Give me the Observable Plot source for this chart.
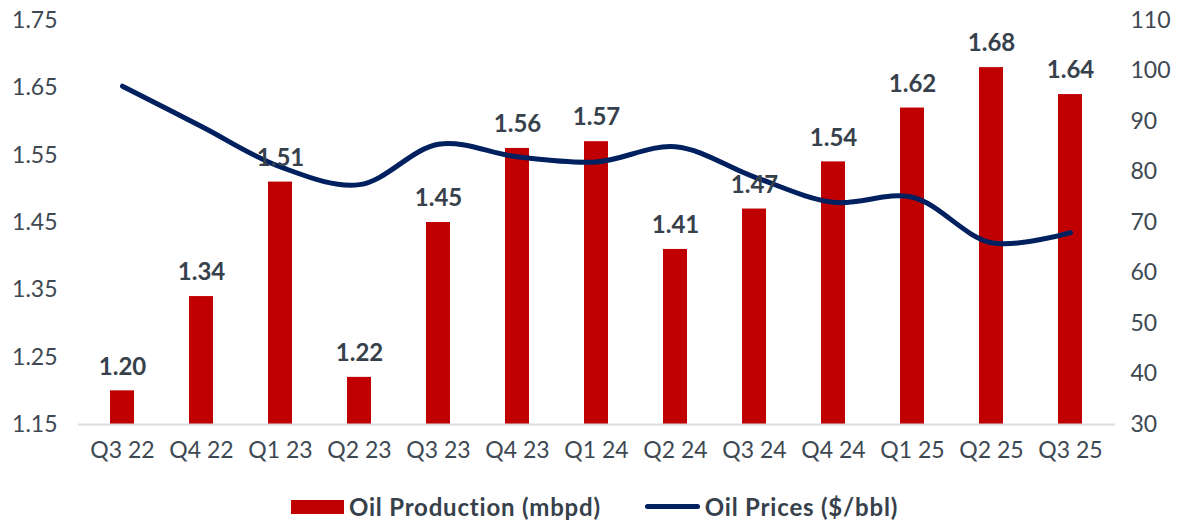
<!DOCTYPE html>
<html>
<head>
<meta charset="utf-8">
<script src="https://cdn.jsdelivr.net/npm/d3@7"></script>
<script src="https://cdn.jsdelivr.net/npm/@observablehq/plot@0.6"></script>
<style>
  body { margin: 0; background: #fff; font-family: "Lato", "DejaVu Sans", sans-serif; }
  #chart svg { overflow: visible; }
  .legend { display: flex; justify-content: center; align-items: center; gap: 44px; margin-top: 12px; padding-left: 0px;
    font-family: "Lato", sans-serif; font-weight: bold; font-size: 24px; letter-spacing: 0.8px; color: #36414B; }
  .legend span.item { display: flex; align-items: center; gap: 5px; }
  .sw-bar { width: 53px; height: 14px; background: #C00000; display: inline-block; }
  .sw-line { width: 55px; height: 5px; border-radius: 3px; background: #002060; display: inline-block; }
</style>
</head>
<body>
<div id="chart"></div>
<div class="legend">
  <span class="item"><span class="sw-bar"></span>Oil Production (mbpd)</span>
  <span class="item"><span class="sw-line"></span>Oil Prices ($/bbl)</span>
</div>
<script>
const quarters = ["Q3 22","Q4 22","Q1 23","Q2 23","Q3 23","Q4 23","Q1 24","Q2 24","Q3 24","Q4 24","Q1 25","Q2 25","Q3 25"];
const production = [1.20,1.34,1.51,1.22,1.45,1.56,1.57,1.41,1.47,1.54,1.62,1.68,1.64];
const prices = [97,89,81,77.5,85.5,83,82,85,79,74,75,66,68];
const leftTicks = [1.15,1.25,1.35,1.45,1.55,1.65,1.75];
const rightTicks = [30,40,50,60,70,80,90,100,110];

const leftDomain = [1.15, 1.75];
const rightDomain = [30, 110];
const toLeft = p => leftDomain[0] + (p - rightDomain[0]) * (leftDomain[1] - leftDomain[0]) / (rightDomain[1] - rightDomain[0]);
const toRight = v => rightDomain[0] + (v - leftDomain[0]) * (rightDomain[1] - rightDomain[0]) / (leftDomain[1] - leftDomain[0]);

const data = quarters.map((q, i) => ({q, prod: production[i], price: prices[i], priceY: toLeft(prices[i])}));

const tickStyle = {fontSize: 23, fill: "#3E4852", fontWeight: 400};

const chart = Plot.plot({
  width: 1189,
  height: 480,
  marginTop: 20,
  marginBottom: 56,
  marginLeft: 78,
  marginRight: 74,
  style: {fontFamily: "Lato, sans-serif", fontSize: "23px", color: "#3E4852", background: "#fff"},
  x: {domain: quarters, paddingInner: 0.69, paddingOuter: 0.345, label: null},
  y: {domain: leftDomain, label: null},
  marks: [
    Plot.barY(data, {x: "q", y1: leftDomain[0], y2: "prod", fill: "#C00000"}),
    Plot.ruleY([leftDomain[0]], {stroke: "#D9DEE3", strokeWidth: 2}),
    Plot.axisX({tickSize: 0, tickPadding: 17, ...tickStyle, label: null}),
    Plot.axisY(leftTicks, {anchor: "left", tickSize: 0, tickPadding: 21, ...tickStyle, tickFormat: d => d.toFixed(2), label: null}),
    Plot.axisY(rightTicks.map(toLeft), {anchor: "right", tickSize: 0, tickPadding: 15, ...tickStyle, tickFormat: d => String(Math.round(toRight(d))), label: null}),
    Plot.line(data, {x: "q", y: "priceY", stroke: "#002060", strokeWidth: 5, curve: "catmull-rom", strokeLinecap: "round"}),
    Plot.text(data, {x: "q", y: "prod", text: d => d.prod.toFixed(2), dy: -24, fontWeight: "bold", fontSize: 24, fill: "#36414B"})
  ]
});
document.getElementById("chart").appendChild(chart);
</script>
</body>
</html>
